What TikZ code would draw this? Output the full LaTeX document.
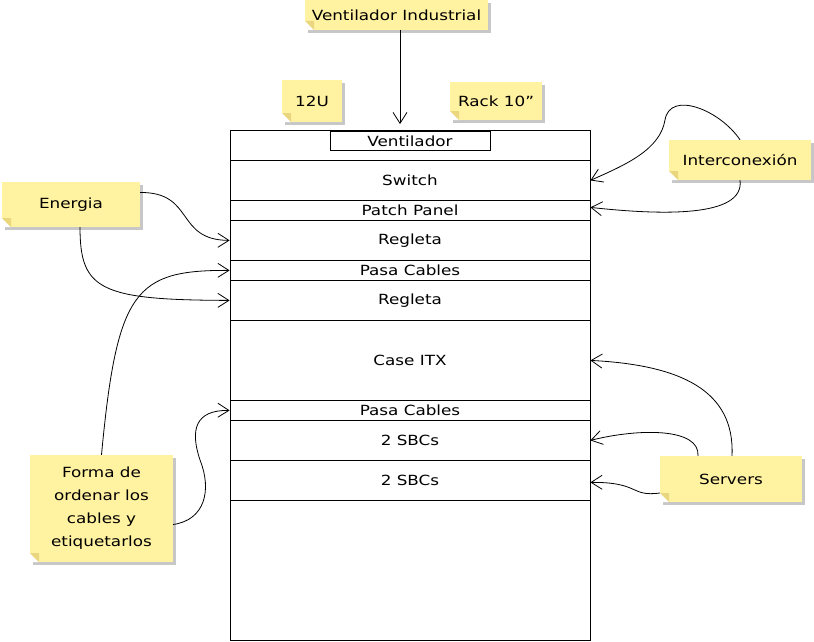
\documentclass[tikz,border=0pt]{standalone}
\usepackage{fontspec}
\setmainfont[FakeStretch=1.2]{DejaVu Sans}
\usetikzlibrary{arrows.meta,shadows}
\definecolor{noteyellow}{HTML}{FFF2A1}
\definecolor{notefold}{HTML}{E9D67E}

\begin{document}
\begin{tikzpicture}[x=1pt,y=-1pt,
  note/.style={fill=noteyellow, inner sep=0pt, align=center, font=\fontsize{14}{23}\selectfont,
    drop shadow={shadow xshift=3pt, shadow yshift=-3pt, fill=black!22, opacity=1},
    path picture={\fill[white] (path picture bounding box.south west) -- ++(0pt,9pt) -- ++(9pt,-9pt) -- cycle;
      \fill[notefold] ([yshift=9pt]path picture bounding box.south west) -- ++(9pt,-9pt) -- ++(0pt,9pt) -- cycle;}},
  slot/.style={draw=black, line width=0.8pt, inner sep=0pt, minimum width=360pt, anchor=north, font=\fontsize{14}{16}\selectfont},
  link/.style={draw=black, line width=0.8pt, -{Straight Barb[length=11pt,width=14pt]}}]
\useasboundingbox (0,0) rectangle (814,642);

\node[slot, minimum height=30pt] (rackTop) at (410,130) {};
\node[slot, minimum height=40pt] (rackSwitch) at (410,160) {Switch};
\node[slot, minimum height=20pt] (rackPatch) at (410,200) {Patch Panel};
\node[slot, minimum height=40pt] (rackRegletaA) at (410,220) {Regleta};
\node[slot, minimum height=20pt] (rackPasaA) at (410,260) {Pasa Cables};
\node[slot, minimum height=40pt] (rackRegletaB) at (410,280) {Regleta};
\node[slot, minimum height=80pt] (rackCase) at (410,320) {Case ITX};
\node[slot, minimum height=20pt] (rackPasaB) at (410,400) {Pasa Cables};
\node[slot, minimum height=40pt] (rackSbcA) at (410,420) {2 SBCs};
\node[slot, minimum height=40pt] (rackSbcB) at (410,460) {2 SBCs};
\node[slot, minimum height=140pt] (rackEmpty) at (410,500) {};
\node[draw=black, line width=0.8pt, inner sep=0pt, minimum width=160pt, minimum height=19pt, font=\fontsize{14}{16}\selectfont] (rackVent) at (410,141) {Ventilador};

\node[note, minimum width=183pt, minimum height=30pt] (noteVentInd) at (396.5,15) {Ventilador Industrial};
\node[note, minimum width=60pt, minimum height=42pt] (noteUnits) at (312,101) {12U};
\node[note, minimum width=92pt, minimum height=38pt] (noteRack) at (496,101) {Rack 10''};
\node[note, minimum width=138pt, minimum height=45pt] (noteEnergia) at (71,204.5) {Energia};
\node[note, minimum width=142pt, minimum height=40pt] (noteInterc) at (740,160) {Interconexión};
\node[note, minimum width=143pt, minimum height=107pt] (noteForma) at (101.5,508.5) {Forma de\\ordenar los\\cables y\\etiquetarlos};
\node[note, minimum width=142pt, minimum height=46pt] (noteServers) at (731,479) {Servers};

\draw[link, shorten >=7pt] ([xshift=3.5pt]noteVentInd.south) -- ([xshift=3.5pt]noteVentInd.south |- rackVent.north);
\draw[link] ([yshift=12pt]noteEnergia.east) .. controls (195,192) and (175,240) .. (rackRegletaA.west);
\draw[link] ([xshift=9pt]noteEnergia.south) .. controls (80,290) and (100,300) .. (rackRegletaB.west);
\draw[link] (noteForma.north) .. controls (117,290) and (135,270) .. (rackPasaA.west);
\draw[link] ([yshift=-16pt]noteForma.east) .. controls (205,520) and (212,490) .. (200,460) .. controls (190,430) and (195,410) .. (rackPasaB.west);
\draw[link] (noteInterc.north) .. controls (720,110) and (670,90) .. (665,120) .. controls (660,150) and (625,165) .. (rackSwitch.east);
\draw[link] (noteInterc.south) .. controls (745,218) and (660,215) .. ([yshift=3pt]rackPatch.east);
\draw[link] ([xshift=1pt]noteServers.north) .. controls (735,390) and (680,365) .. (rackCase.east);
\draw[link] ([xshift=-33pt]noteServers.north) .. controls (700,428) and (640,428) .. (rackSbcA.east);
\draw[link] ([yshift=-14pt]noteServers.west) .. controls (630,497) and (640,482) .. ([yshift=-2pt]rackSbcB.east);
\end{tikzpicture}
\end{document}
